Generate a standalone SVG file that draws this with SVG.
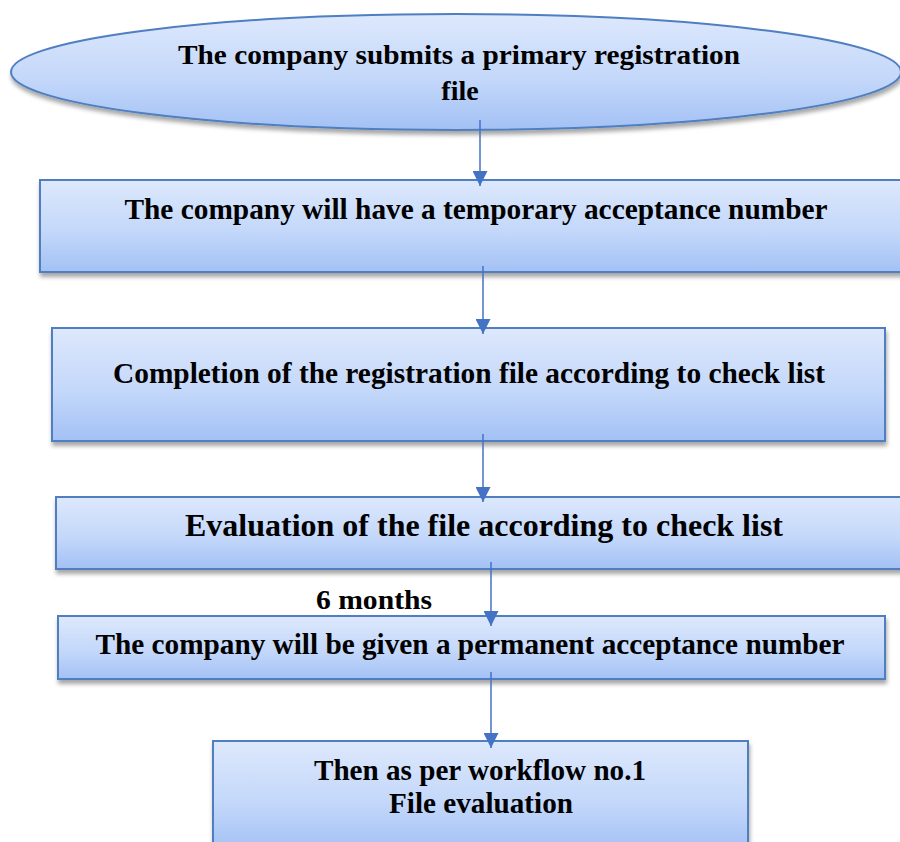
<svg xmlns="http://www.w3.org/2000/svg" width="900" height="842" viewBox="0 0 900 842">
<style>
.shape{fill:url(#g);stroke:#4f7fc0;stroke-width:2;filter:url(#sh)}
.t{font-weight:bold;fill:#000;text-anchor:middle}
.c{stroke:#4472c4;stroke-width:1.5;fill:none;marker-end:url(#ah)}
</style>
<defs>
<linearGradient id="g" x1="0" y1="0" x2="0" y2="1">
<stop offset="0" stop-color="#dde8fc"/>
<stop offset="0.55" stop-color="#c4d8fa"/>
<stop offset="1" stop-color="#a3c1f5"/>
</linearGradient>
<filter id="sh" x="-5%" y="-10%" width="110%" height="130%">
<feDropShadow dx="1" dy="4" stdDeviation="2" flood-color="#000" flood-opacity="0.35"/>
</filter>
<marker id="ah" viewBox="0 0 10 10" refX="10" refY="5" markerWidth="15" markerHeight="15" markerUnits="userSpaceOnUse" orient="auto">
<path d="M0,0 L10,5 L0,10 Z" fill="#4472c4"/>
</marker>
</defs>
<g font-family="Liberation Serif, Times New Roman, serif">
<g id="n1">
<ellipse class="shape" cx="456" cy="72" rx="445" ry="58"/>
<text class="t" x="459" y="64" font-size="28" textLength="562" lengthAdjust="spacingAndGlyphs">The company submits a primary registration</text>
<text class="t" x="460" y="100" font-size="28">file</text>
</g>
<g id="n2">
<rect class="shape" x="40" y="180" width="870" height="92"/>
<text class="t" x="476" y="219" font-size="29" textLength="703" lengthAdjust="spacingAndGlyphs">The company will have a temporary acceptance number</text>
</g>
<g id="n3">
<rect class="shape" x="52" y="328" width="833" height="113"/>
<text class="t" x="469" y="383" font-size="29" textLength="712" lengthAdjust="spacingAndGlyphs">Completion of the registration file according to check list</text>
</g>
<g id="n4">
<rect class="shape" x="56" y="497" width="850" height="72"/>
<text class="t" x="484" y="536" font-size="31" textLength="598" lengthAdjust="spacingAndGlyphs">Evaluation of the file according to check list</text>
</g>
<g id="n5">
<rect class="shape" x="58" y="616" width="827" height="63"/>
<text class="t" x="470" y="654" font-size="29" textLength="749" lengthAdjust="spacingAndGlyphs">The company will be given a permanent acceptance number</text>
</g>
<g id="n6">
<rect class="shape" x="213" y="741" width="535" height="110"/>
<text class="t" x="480" y="780" font-size="29" textLength="332" lengthAdjust="spacingAndGlyphs">Then as per workflow no.1</text>
<text class="t" x="481" y="813" font-size="29" textLength="184" lengthAdjust="spacingAndGlyphs">File evaluation</text>
</g>
<text id="lbl" class="t" x="374" y="609" font-size="27" textLength="116" lengthAdjust="spacingAndGlyphs">6 months</text>
</g>
<g id="connectors">
<line class="c" x1="480" y1="120" x2="480" y2="186"/>
<line class="c" x1="483" y1="266" x2="483" y2="334"/>
<line class="c" x1="483" y1="434" x2="483" y2="502"/>
<line class="c" x1="491" y1="562" x2="491" y2="626"/>
<line class="c" x1="491" y1="672" x2="491" y2="748"/>
</g>
</svg>
